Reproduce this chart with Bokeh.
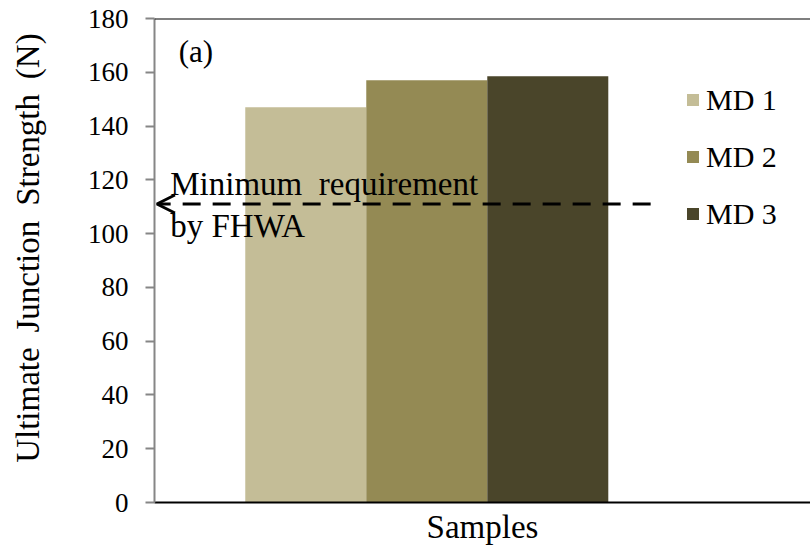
from bokeh.plotting import figure
from bokeh.models import (Range1d, FixedTicker, Arrow, OpenHead, Label, Span,
                          ColumnDataSource)
from bokeh.embed import file_html
from bokeh.resources import INLINE

# ---- data ----
samples = ["MD 1", "MD 2", "MD 3"]
strength = [147, 157, 158.5]
colors = ["#C4BD97", "#948A54", "#4A452A"]
x_pos = [1.25, 2.25, 3.25]
fhwa_min = 111
y_ticks = [0, 20, 40, 60, 80, 100, 120, 140, 160, 180]

FONT = "Liberation Serif"

p = figure(width=810, height=552, output_backend="svg", toolbar_location=None,
           x_range=Range1d(0, 5.421), y_range=Range1d(0, 180),
           min_border_left=154, min_border_right=0, min_border_top=18,
           min_border_bottom=50)
p.outline_line_color = None
p.xgrid.visible = False
p.ygrid.visible = False

src = ColumnDataSource(dict(x=x_pos, top=strength, color=colors, label=samples))
p.vbar(x="x", top="top", width=1.0, bottom=0, fill_color="color",
       line_color=None, source=src, legend_field="label")

# top border line
p.add_layout(Span(location=180, dimension="width", line_color="black", line_width=2))

# y axis
ya = p.yaxis[0]
ya.ticker = FixedTicker(ticks=y_ticks)
ya.axis_line_color = "#868686"
ya.axis_line_width = 2
ya.major_tick_line_color = "#868686"
ya.major_tick_line_width = 2
ya.major_tick_out = 9
ya.major_tick_in = 0
ya.minor_tick_line_color = None
ya.major_label_text_font = FONT
ya.major_label_text_font_size = "27px"
ya.major_label_text_color = "black"
ya.major_label_standoff = 17
ya.axis_label = "\u00a0\u00a0\u00a0Ultimate\u2009 Junction\u2009 Strength\u2009 (N)"
ya.axis_label_text_font = FONT
ya.axis_label_text_font_size = "33px"
ya.axis_label_text_font_style = "normal"
ya.axis_label_text_color = "black"
ya.axis_label_standoff = 39

# x axis
xa = p.xaxis[0]
xa.ticker = FixedTicker(ticks=[])
xa.axis_line_color = "black"
xa.axis_line_width = 2
xa.major_tick_line_color = None
xa.minor_tick_line_color = None
xa.axis_label = "Samples"
xa.axis_label_text_font = FONT
xa.axis_label_text_font_size = "33px"
xa.axis_label_text_font_style = "normal"
xa.axis_label_text_color = "black"
xa.axis_label_standoff = 6

# FHWA minimum arrow
p.add_layout(Arrow(x_start=4.1, y_start=fhwa_min, x_end=0.02, y_end=fhwa_min,
                   line_color="black", line_width=3, line_dash="18 12",
                   end=OpenHead(size=18, line_width=3, line_color="black")))

p.add_layout(Label(x=0.13, y=118.3, text="Minimum\u00a0 requirement",
                   text_font=FONT, text_font_size="33px", text_color="black",
                   text_baseline="alphabetic"))
p.add_layout(Label(x=0.13, y=102.7, text="by FHWA",
                   text_font=FONT, text_font_size="33px", text_color="black",
                   text_baseline="alphabetic"))
p.add_layout(Label(x=0.2, y=167.8, text="(a)",
                   text_font=FONT, text_font_size="31px", text_color="black",
                   text_baseline="alphabetic"))

# legend
lg = p.legend[0]
lg.location = (531, 260)
lg.border_line_color = None
lg.background_fill_alpha = 0
lg.padding = 0
lg.margin = 0
lg.spacing = 0
lg.label_height = 57
lg.glyph_height = 15
lg.glyph_width = 15
lg.label_standoff = 6
lg.label_text_font = FONT
lg.label_text_font_size = "30px"
lg.label_text_color = "black"

open("out.html", "w").write(file_html(p, INLINE))
